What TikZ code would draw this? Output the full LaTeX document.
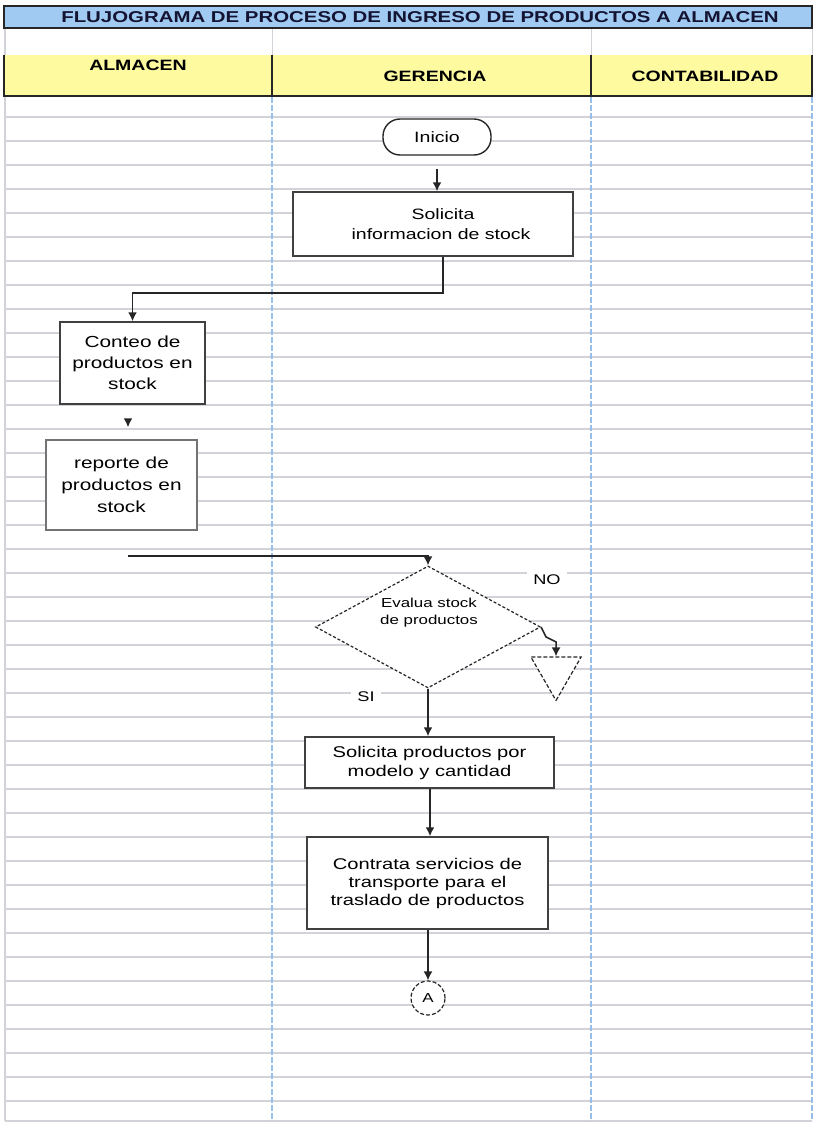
\documentclass[tikz,border=0pt]{standalone}
\usepackage{fontspec}
\setmainfont{Liberation Sans}[FakeStretch=1.3]
\usetikzlibrary{arrows.meta, positioning, shapes.geometric}
\definecolor{rowgray}{RGB}{210,210,216}
\definecolor{laneblue}{RGB}{150,192,236}
\definecolor{titleblue}{RGB}{160,202,242}
\definecolor{headyellow}{RGB}{253,250,160}
\definecolor{titleink}{RGB}{20,20,50}

\begin{document}
\begin{tikzpicture}[
    x=1pt, y=-1pt,
    >={Latex[length=9pt,width=9pt]},
    gridline/.style={draw=rowgray, line width=1.6pt},
    laneline/.style={draw=laneblue, line width=1.8pt, dash pattern=on 6pt off 2pt},
    heading/.style={font=\fontsize{15}{18}\selectfont\bfseries},
    process/.style={rectangle, draw=black!75, line width=1.5pt, fill=white, align=center, inner sep=2pt},
    decision/.style={diamond, draw=black!85, line width=1.2pt, dash pattern=on 3pt off 2pt, fill=white, inner sep=0pt},
    tag/.style={fill=white, inner sep=6pt, font=\fontsize{14}{16}\selectfont},
    flow/.style={->, draw=black!85, line width=1.6pt},
    every node/.style={font=\fontsize{15}{18}\selectfont}
]
\useasboundingbox (0,0) rectangle (816,1124);

% sheet rows and lanes
\foreach \r in {0,...,41}
    \draw[gridline] (5,{117+24*\r}) -- (812,{117+24*\r});
\draw[gridline] (5,1121) -- (812,1121);
\draw[gridline] (5,28) -- (5,1121);
\draw[gridline, line width=1pt] (272,28) -- (272,55);
\draw[gridline, line width=1pt] (591,28) -- (591,55);
\draw[gridline, line width=1pt] (812,28) -- (812,55);
\foreach \xl in {272,591,812}
    \draw[laneline] (\xl,97) -- (\xl,1121);

% title bar
\fill[titleblue] (4,6) rectangle (812,28);
\draw[black!85, line width=1.5pt] (4,6) rectangle (812,28);
\node[heading, font=\fontsize{15.7}{18}\selectfont\bfseries, text=titleink] (title) at (420,17)
    {FLUJOGRAMA DE PROCESO DE INGRESO DE PRODUCTOS A ALMACEN};

% lane headers
\fill[headyellow] (4,55) rectangle (812,96);
\draw[black!85, line width=1.5pt] (4,55) -- (4,96) -- (812,96) -- (812,55);
\draw[black!85, line width=1.3pt] (272,55) -- (272,96);
\draw[black!85, line width=1.3pt] (591,55) -- (591,96);
\node[heading] (hdalm) at (138,65) {ALMACEN};
\node[heading] (hdger) at (435,76) {GERENCIA};
\node[heading] (hdcont) at (705,76) {CONTABILIDAD};

% flow nodes
\node[draw=black!85, line width=1.4pt, fill=white, rounded corners=17pt,
      minimum width=108pt, minimum height=36pt] (inicio) at (437,137) {Inicio};
\node[process, minimum width=280pt, minimum height=64pt, font=\fontsize{15}{20}\selectfont]
    (solinfo) at (433,224) {\hspace*{20pt}Solicita\\ \hspace*{16pt}informacion de stock};
\node[process, minimum width=145pt, minimum height=82pt, font=\fontsize{16}{21}\selectfont]
    (conteo) at (132.5,363) {Conteo de\\productos en\\stock};
\node[process, draw=black!55, minimum width=151pt, minimum height=90pt, font=\fontsize{16}{22}\selectfont]
    (reporte) at (121.5,485) {reporte de\\productos en\\stock};
\coordinate (desde) at (128,556);

\node[decision, minimum width=225pt, minimum height=122pt] (evalua) at (428,627) {};
\node[font=\fontsize{13}{17}\selectfont, align=center] (evaltxt) at (429,613) {Evalua stock\\de productos};
\node[regular polygon, regular polygon sides=3, shape border rotate=180, draw=black!85,
      line width=1.2pt, dash pattern=on 4pt off 2pt, fill=white, inner sep=0pt,
      minimum size=58pt] (fin) at (556,671.5) {};
\node[tag] (tagno) at (547,580) {NO};
\node[tag] (tagsi) at (366,697) {SI};

\node[process, minimum width=249pt, minimum height=51pt, font=\fontsize{15.5}{19}\selectfont]
    (solprod) at (429.5,762.5) {Solicita productos por\\modelo y cantidad};
\node[process, minimum width=241pt, minimum height=92pt, font=\fontsize{15.5}{18}\selectfont]
    (contrata) at (427.5,883) {Contrata servicios de\\transporte para el\\traslado de productos};
\node[circle, draw=black!85, line width=1.2pt, dash pattern=on 4pt off 2pt, fill=white,
      minimum size=34pt, inner sep=0pt, font=\fontsize{13}{15}\selectfont] (conA) at (428,998) {A};

% inicio -> solicita
\draw[flow, shorten <=13pt] (inicio.south) -- (inicio.south |- solinfo.north);

% solicita -> conteo
\draw[flow] ([xshift=10pt]solinfo.south) -- ++(0,36) -| (conteo.north);

% conteo -> reporte
\draw[flow, shorten <=15pt, shorten >=12pt] (conteo.south -| desde) -- (reporte.north -| desde);

% reporte -> evalua
\draw[flow] (desde) -| (evalua.north);

% evalua -> NO
\draw[flow] (evalua.east) -- ++(5,10) -- ++(10,5) -- (fin.north);

% evalua -> SI
\draw[flow] (evalua.south) -- (solprod.north -| evalua.south);

% solicita productos -> contrata
\draw[flow] (solprod.south -| 430,0) -- (contrata.north -| 430,0);

% contrata -> A
\draw[flow] (contrata.south -| conA) -- (conA.north);

\end{tikzpicture}
\end{document}
